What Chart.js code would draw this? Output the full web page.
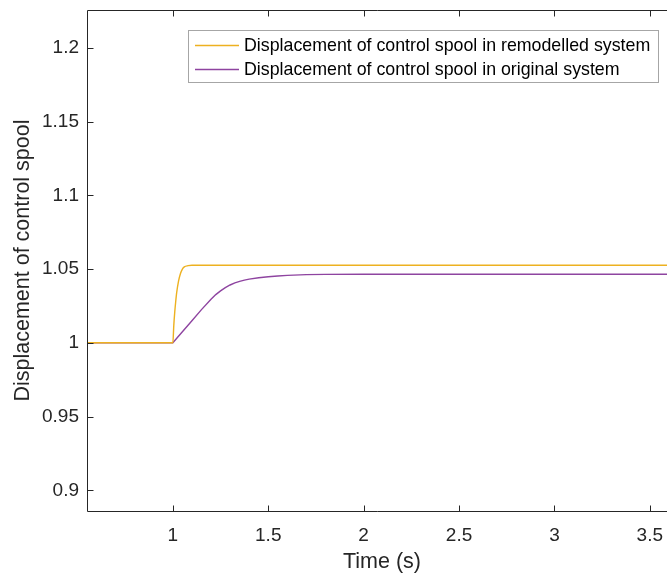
<!DOCTYPE html>
<html>
<head>
<meta charset="utf-8">
<script src="https://cdn.jsdelivr.net/npm/chart.js@4"></script>
<style>
html, body { margin: 0; padding: 0; background: #fff; }
</style>
</head>
<body>
<canvas id="chart" width="667" height="573"></canvas>
<script>
// remodelled system (yellow)
const timeRemodelled = [0.55, 1.0, 1.005, 1.01, 1.015, 1.02, 1.03, 1.04, 1.05, 1.06, 1.08, 1.1, 3.6];
const dispRemodelled = [1.0, 1.0, 1.012, 1.021, 1.028, 1.034, 1.042, 1.047, 1.050, 1.0515, 1.0523, 1.0526, 1.0526];

// original system (purple)
const timeOriginal = [0.55, 1.0, 1.05, 1.1, 1.15, 1.2, 1.225, 1.25, 1.275, 1.3, 1.325, 1.35, 1.375, 1.4, 1.45, 1.5, 1.55, 1.6, 1.7, 1.8, 2.0, 3.6];
const dispOriginal = [1.0, 1.0, 1.0075, 1.015, 1.0225, 1.0295, 1.0327, 1.0352, 1.0374, 1.0392, 1.0406, 1.0417, 1.0425, 1.0432, 1.0441, 1.0448, 1.0453, 1.0457, 1.0462, 1.0464, 1.0465, 1.0465];

const xTicks = [1, 1.5, 2, 2.5, 3, 3.5];
const yTicks = [0.9, 0.95, 1, 1.05, 1.1, 1.15, 1.2];

const seriesLabels = [
    'Displacement of control spool in remodelled system',
    'Displacement of control spool in original system'
];
const xTitle = 'Time (s)';

const axisColor = '#262626';
const fontFamily = '"Liberation Sans", Arial, Helvetica, sans-serif';

const toPoints = (xs, ys) => xs.map((x, i) => ({ x: x, y: ys[i] }));

// axes box, inward ticks, x title and legend, MATLAB style
const framePlugin = {
    id: 'frame',
    afterDraw(chart) {
        const ctx = chart.ctx;
        const a = chart.chartArea;
        const sx = chart.scales.x;
        const sy = chart.scales.y;
        const left = a.left + 0.5, top = a.top + 0.5, bottom = a.bottom + 0.5;
        ctx.save();
        ctx.strokeStyle = axisColor;
        ctx.lineWidth = 1;
        ctx.beginPath();
        ctx.moveTo(a.right + 1, top);
        ctx.lineTo(left, top);
        ctx.lineTo(left, bottom);
        ctx.lineTo(a.right + 1, bottom);
        sx.ticks.forEach(t => {
            const px = Math.round(sx.getPixelForValue(t.value)) + 0.5;
            ctx.moveTo(px, bottom); ctx.lineTo(px, bottom - 6);
            ctx.moveTo(px, top); ctx.lineTo(px, top + 6);
        });
        sy.ticks.forEach(t => {
            const py = Math.round(sy.getPixelForValue(t.value)) + 0.5;
            ctx.moveTo(left, py); ctx.lineTo(left + 6, py);
        });
        ctx.stroke();

        // x title (the axes run a little past the right edge, so it sits right of centre)
        ctx.font = '21.5px ' + fontFamily;
        ctx.fillStyle = axisColor;
        ctx.textAlign = 'center';
        ctx.textBaseline = 'middle';
        ctx.fillText(xTitle, 382, 562);

        // legend
        const bx = 188.5, by = 30.5, bw = 470, bh = 52;
        ctx.fillStyle = '#fff';
        ctx.fillRect(bx, by, bw, bh);
        ctx.strokeStyle = '#a6a6a6';
        ctx.strokeRect(bx, by, bw, bh);
        ctx.font = '17.8px ' + fontFamily;
        ctx.textAlign = 'left';
        ctx.fillStyle = '#000';
        chart.data.datasets.forEach((ds, i) => {
            const ly = 45 + i * 24;
            ctx.strokeStyle = ds.borderColor;
            ctx.lineWidth = 1.4;
            ctx.beginPath();
            ctx.moveTo(195, ly + 0.5);
            ctx.lineTo(239, ly + 0.5);
            ctx.stroke();
            ctx.fillText(ds.label, 244, ly + 1);
        });
        ctx.restore();
    }
};

new Chart(document.getElementById('chart').getContext('2d'), {
    type: 'scatter',
    data: {
        datasets: [{
            label: seriesLabels[0],
            data: toPoints(timeRemodelled, dispRemodelled),
            borderColor: '#EDB120',
            borderWidth: 1.4,
            showLine: true,
            pointRadius: 0,
            cubicInterpolationMode: 'monotone'
        }, {
            label: seriesLabels[1],
            data: toPoints(timeOriginal, dispOriginal),
            borderColor: '#8E44A0',
            borderWidth: 1.4,
            showLine: true,
            pointRadius: 0,
            tension: 0
        }]
    },
    options: {
        responsive: false,
        animation: false,
        layout: { padding: { top: 10, right: 0, left: 0, bottom: 0 } },
        plugins: {
            legend: { display: false },
            tooltip: { enabled: false }
        },
        scales: {
            x: {
                type: 'linear',
                min: 0.55,
                max: 3.59,
                afterBuildTicks: s => { s.ticks = xTicks.map(v => ({ value: v })); },
                afterFit: s => { s.height = 62; s.paddingLeft = 0; s.paddingRight = 0; },
                grid: { display: false },
                border: { display: false },
                ticks: {
                    color: axisColor,
                    padding: 5,
                    maxRotation: 0,
                    font: { family: fontFamily, size: 19 },
                    callback: v => String(v)
                }
            },
            y: {
                min: 0.886,
                max: 1.2256,
                afterBuildTicks: s => { s.ticks = yTicks.map(v => ({ value: v })); },
                afterFit: s => { s.width = 87; s.paddingTop = 0; s.paddingBottom = 0; },
                grid: { display: false },
                border: { display: false },
                ticks: {
                    color: axisColor,
                    padding: 0,
                    font: { family: fontFamily, size: 19 },
                    callback: v => String(v)
                },
                title: {
                    display: true,
                    text: 'Displacement of control spool',
                    color: axisColor,
                    padding: { top: 10, bottom: 0 },
                    font: { family: fontFamily, size: 21.5 }
                }
            }
        }
    },
    plugins: [framePlugin]
});
</script>
</body>
</html>
